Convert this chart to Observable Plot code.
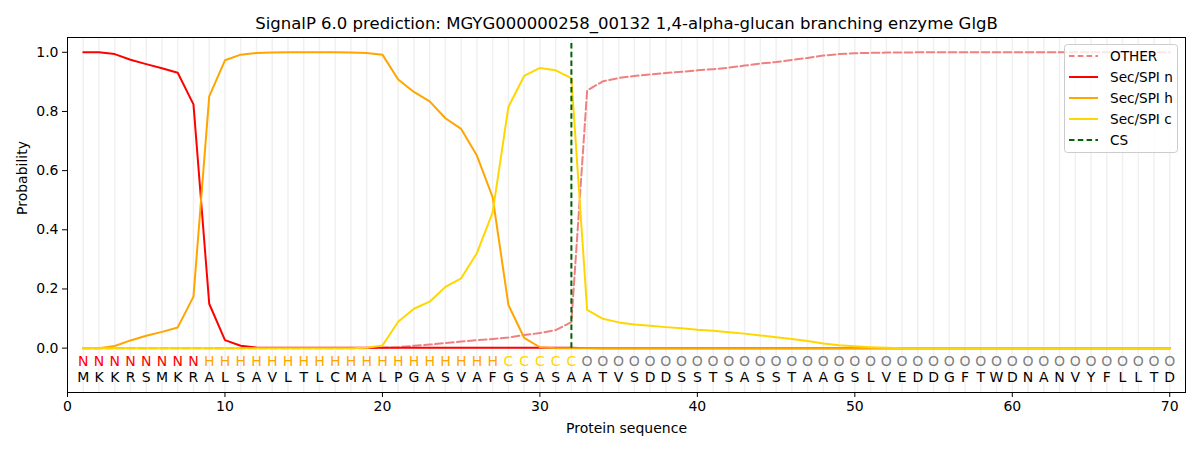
<!DOCTYPE html>
<html><head><meta charset="utf-8">
<script src="https://cdn.jsdelivr.net/npm/d3@7"></script>
<script src="https://cdn.jsdelivr.net/npm/@observablehq/plot@0.6"></script>
<style>body{margin:0;background:#fff;font-family:"DejaVu Sans",sans-serif}</style>
</head><body><div id="chart"></div>
<script>
const title = "SignalP 6.0 prediction: MGYG000000258_00132 1,4-alpha-glucan branching enzyme GlgB";
const residues = ["M","K","K","R","S","M","K","R","A","L","S","A","V","L","T","L","C","M","A","L","P","G","A","S","V","A","F","G","S","A","S","A","A","T","V","S","D","D","S","S","T","S","A","S","S","T","A","A","G","S","L","V","E","D","D","G","F","T","W","D","N","A","N","V","Y","F","L","L","T","D"];
const regionLabels = ["N","N","N","N","N","N","N","N","H","H","H","H","H","H","H","H","H","H","H","H","H","H","H","H","H","H","H","C","C","C","C","C","O","O","O","O","O","O","O","O","O","O","O","O","O","O","O","O","O","O","O","O","O","O","O","O","O","O","O","O","O","O","O","O","O","O","O","O","O","O"];
const otherVals = [0,0,0,0,0,0,0,0,0,0,0,0,0,0,0,0,0,0,0,0.001,0.003,0.008,0.012,0.017,0.022,0.027,0.031,0.036,0.044,0.051,0.061,0.088,0.871,0.902,0.913,0.92,0.925,0.93,0.934,0.939,0.943,0.948,0.955,0.962,0.967,0.974,0.981,0.989,0.994,0.997,0.998,0.999,0.999,1,1,1,1,1,1,1,1,1,1,1,1,1,1,1,1,1];
const nVals = [1,1,0.994,0.975,0.96,0.946,0.931,0.824,0.15,0.027,0.008,0.002,0.001,0.001,0.001,0.001,0.001,0.001,0.001,0.001,0.001,0.001,0.001,0.001,0.001,0.001,0.001,0.001,0.001,0.001,0.001,0.001,0,0,0,0,0,0,0,0,0,0,0,0,0,0,0,0,0,0,0,0,0,0,0,0,0,0,0,0,0,0,0,0,0,0,0,0,0,0];
const hVals = [0,0,0.007,0.026,0.042,0.055,0.07,0.174,0.851,0.973,0.992,0.998,0.999,1,1,1,1,0.999,0.998,0.992,0.908,0.866,0.834,0.777,0.741,0.651,0.51,0.146,0.035,0.003,0,0,0,0,0,0,0,0,0,0,0,0,0,0,0,0,0,0,0,0,0,0,0,0,0,0,0,0,0,0,0,0,0,0,0,0,0,0,0,0];
const cVals = [0,0,0,0,0,0,0,0,0,0,0,0,0,0,0,0,0,0,0.001,0.009,0.089,0.133,0.157,0.207,0.236,0.321,0.459,0.815,0.92,0.947,0.939,0.913,0.129,0.099,0.087,0.08,0.076,0.071,0.067,0.062,0.059,0.054,0.049,0.043,0.037,0.031,0.024,0.016,0.01,0.006,0.003,0.001,0,0,0,0,0,0,0,0,0,0,0,0,0,0,0,0,0,0];
const csPosition = 32;
const xTicks = [0,10,20,30,40,50,60,70];
const yTicks = [0,0.2,0.4,0.6,0.8,1.0];
const seriesNames = ["OTHER","Sec/SPI n","Sec/SPI h","Sec/SPI c"];
const seriesColors = ["#f08080","#ff0000","#ffa500","#ffd700"];
const labelColors = {N:"#ff0000", H:"#ffa500", C:"#ffd700", O:"#808080"};
const legendNames = ["OTHER","Sec/SPI n","Sec/SPI h","Sec/SPI c","CS"];
const legendColors = ["#f08080","#ff0000","#ffa500","#ffd700","#006400"];
const legendDashed = [true,false,false,false,true];

const seq = residues.map((r,i)=>({pos:i+1, aa:r, lab:regionLabels[i]}));
const allSeries = [otherVals,nVals,hVals,cVals];
const lineMarks = allSeries.map((vals,k)=>Plot.line(vals.map((v,i)=>({pos:i+1, p:v})), {
  x:"pos", y:"p", stroke:seriesColors[k], strokeWidth:2,
  strokeDasharray: k===0 ? "7.7,3.3" : null
}));

const chart = Plot.plot({
  width:1200, height:450,
  marginLeft:67, marginRight:15, marginTop:37, marginBottom:58,
  style:{fontFamily:"DejaVu Sans", fontSize:"14px", background:"white", color:"black"},
  x:{domain:[0,71]},
  y:{domain:[-0.15,1.05]},
  marks:[
    Plot.ruleX(seq, {x:"pos", stroke:"#f0f0f0", strokeWidth:1.5}),
    ...lineMarks,
    Plot.ruleX([csPosition], {x:d=>d, y1:0, y2:1.035, stroke:"#006400", strokeWidth:2, strokeDasharray:"5.5,3.3"}),
    Plot.text(seq, {x:"pos", y:-0.046, text:"lab", fill:d=>labelColors[d.lab], fontSize:14, lineAnchor:"middle"}),
    Plot.text(seq, {x:"pos", y:-0.098, text:"aa", fill:"black", fontSize:14, lineAnchor:"middle"}),
    Plot.frame({stroke:"black", strokeWidth:1}),
    Plot.axisX({ticks:xTicks, tickSize:5, tickPadding:4, label:null, fontSize:14}),
    Plot.axisY({ticks:yTicks, tickFormat:".1f", tickSize:5, tickPadding:4, label:null, fontSize:14}),
    Plot.text(["Protein sequence"], {frameAnchor:"bottom", dy:36, lineAnchor:"middle", fontSize:14}),
    Plot.text(["Probability"], {frameAnchor:"left", dx:-45, rotate:-90, lineAnchor:"middle", fontSize:14}),
    Plot.text([title], {frameAnchor:"top", dy:-14, lineAnchor:"middle", fontSize:16.5})
  ]
});
document.getElementById("chart").appendChild(chart);

// legend
const svg = d3.select(chart);
const lg = svg.append("g");
lg.append("rect").attr("x",1064.5).attr("y",44.5).attr("width",113).attr("height",108).attr("rx",3)
  .attr("fill","white").attr("fill-opacity",0.8).attr("stroke","#cccccc");
legendNames.forEach((name,i)=>{
  const y = 56 + i*21;
  lg.append("line").attr("x1",1069).attr("x2",1098).attr("y1",y).attr("y2",y)
    .attr("stroke",legendColors[i]).attr("stroke-width",2)
    .attr("stroke-dasharray", legendDashed[i] ? "5.5,3.3" : null);
  lg.append("text").attr("x",1110).attr("y",y).attr("dy","0.35em")
    .attr("text-anchor","start")
    .attr("font-size",13.6).attr("font-family","DejaVu Sans").attr("fill","black").text(name);
});
</script></body></html>
